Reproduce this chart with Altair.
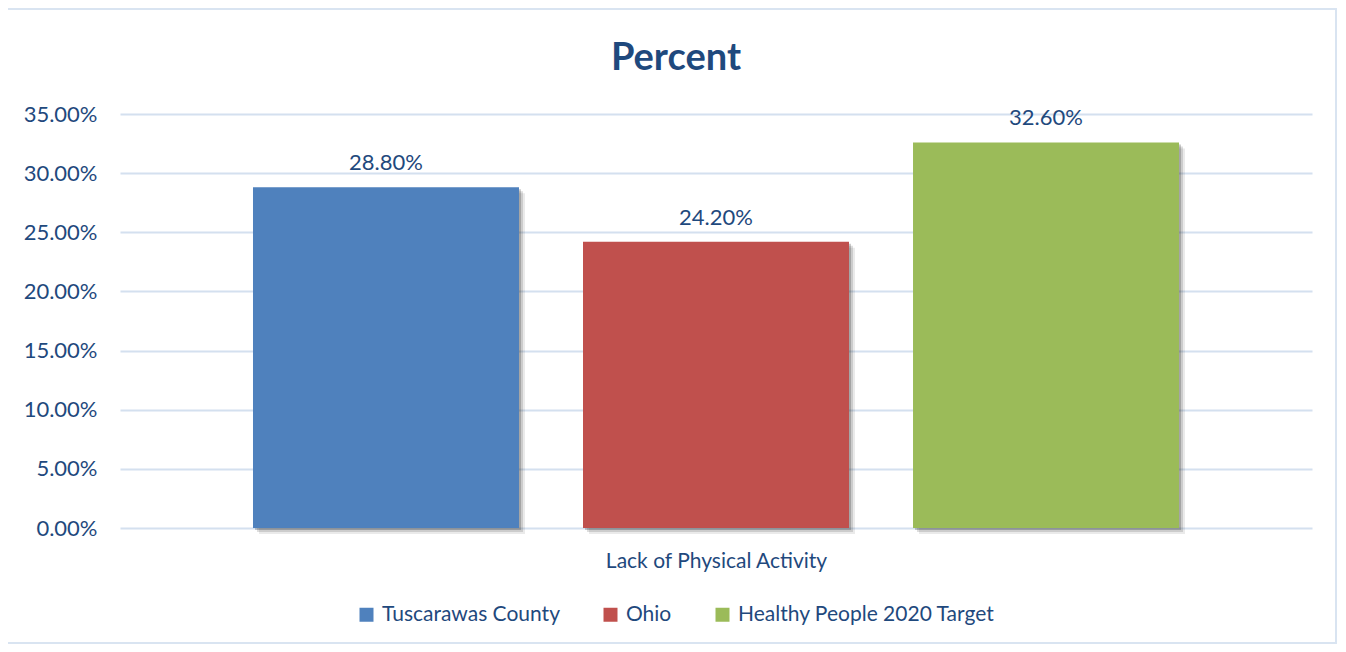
import altair as alt
import pandas as pd

series = ["Tuscarawas County", "Ohio", "Healthy People 2020 Target"]
values = [0.288, 0.242, 0.326]
colors = ["#4F81BD", "#C0504D", "#9BBB59"]
category = "Lack of Physical Activity"
chart_title = "Percent"
y_ticks = [0, 0.05, 0.10, 0.15, 0.20, 0.25, 0.30, 0.35]

df = pd.DataFrame({"series": series, "value": values, "category": [category] * 3})
title_df = pd.DataFrame({"t": [chart_title]})

TEXT = "#1F497D"
GRID = "#D4E0EF"
FONT = "Lato"

xscale = alt.Scale(domain=series, paddingInner=0.194, paddingOuter=0.403)
yscale = alt.Scale(domain=[0, 0.35], nice=False)

base = alt.Chart(df)

border = base.mark_rect(filled=False, stroke="#D9E4F1", strokeWidth=2).encode(
    x=alt.value(-113), x2=alt.value(1216), y=alt.value(-105), y2=alt.value(529)
)

title_mark = alt.Chart(title_df).mark_text(
    font=FONT, fontSize=38, fontWeight="bold", color=TEXT,
    align="center", baseline="alphabetic",
).encode(x=alt.value(556), y=alt.value(-44), text="t:N")

shadows = [
    base.mark_bar(color="#303030", opacity=op, xOffset=off, yOffset=off).encode(
        x=alt.X("series:N", scale=xscale),
        y=alt.Y("value:Q", scale=yscale),
    )
    for off, op in [(6, 0.10), (4, 0.16), (2, 0.25)]
]

bars = base.mark_bar().encode(
    x=alt.X(
        "series:N",
        scale=xscale,
        sort=series,
        axis=alt.Axis(
            title=category,
            labels=False,
            ticks=False,
            domain=False,
            grid=False,
            titleFont=FONT,
            titleFontSize=21,
            titleFontWeight="normal",
            titleColor=TEXT,
            titleBaseline="alphabetic",
            titleY=39,
        ),
    ),
    y=alt.Y(
        "value:Q",
        scale=yscale,
        axis=alt.Axis(
            title=None,
            values=y_ticks,
            format=".2%",
            ticks=False,
            domain=False,
            labelFont=FONT,
            labelFontSize=22,
            labelColor=TEXT,
            labelPadding=23,
            gridColor=GRID,
            gridWidth=2,
        ),
    ),
    color=alt.Color(
        "series:N",
        scale=alt.Scale(domain=series, range=colors),
        legend=alt.Legend(
            title=None,
            orient="none",
            direction="horizontal",
            legendX=236,
            legendY=490,
            symbolType="square",
            symbolSize=196,
            symbolStrokeWidth=0,
            symbolOpacity=1,
            labelFont=FONT,
            labelFontSize=21,
            labelColor=TEXT,
            labelOffset=5,
            labelLimit=0,
            columnPadding=40,
            padding=0,
        ),
    ),
)

labels = base.mark_text(
    baseline="alphabetic", dy=-17, font=FONT, fontSize=22, color=TEXT
).encode(
    x=alt.X("series:N", scale=xscale),
    y=alt.Y("value:Q", scale=yscale),
    text=alt.Text("value:Q", format=".2%"),
)

chart = (
    alt.layer(border, title_mark, *shadows, bars, labels)
    .properties(
        width=1192,
        height=414,
        view=alt.ViewBackground(stroke="transparent", strokeWidth=0),
        autosize=alt.AutoSizeParams(type="none"),
        padding={"left": 112, "top": 106, "right": 26, "bottom": 116},
    )
    .configure_view(strokeWidth=0, stroke="transparent")
    .configure(background="white")
)

chart.save("out.html", embed_options={"renderer": "svg", "actions": False})
